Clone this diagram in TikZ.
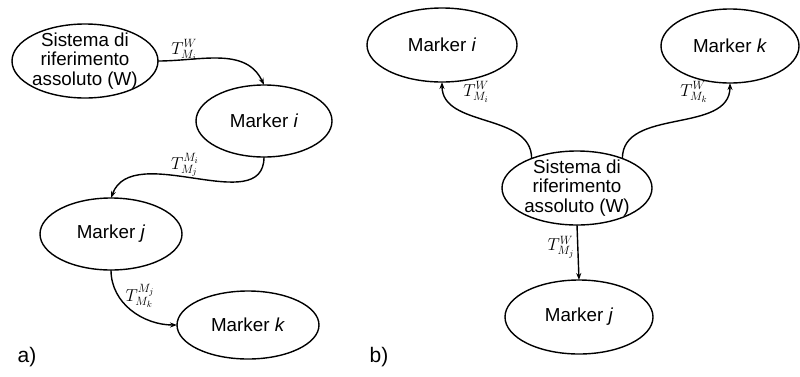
\documentclass[tikz,border=0pt]{standalone}
\usepackage[no-math]{fontspec}
\setmainfont{Liberation Sans}
\usetikzlibrary{arrows.meta,shapes.geometric}
\begin{document}
\begin{tikzpicture}[x=1pt,y=-1pt,
  mk/.style={draw, ellipse, line width=1.4pt, inner sep=0pt, outer sep=0pt},
  txt/.style={align=center, font=\fontsize{18.8}{19.8}\selectfont},
  tlab/.style={font=\fontsize{18}{20}\selectfont, inner sep=0pt},
  arr/.style={line width=1.4pt, -{Stealth[length=7pt,width=5pt]}}]
\useasboundingbox (0,0) rectangle (800,376);

% panel a): chain of transformations
\node[mk, minimum width=146, minimum height=74] (W) at (85,61) {};
\node[txt] (Wt) at (W) {Sistema di\\riferimento\\assoluto (W)};
\node[mk, minimum width=136, minimum height=72] (Mi) at (264,121) {};
\node[txt] (Mit) at (Mi) {Marker \textit{i}};
\node[mk, minimum width=142, minimum height=72] (Mj) at (111,234) {};
\node[txt] (Mjt) at (Mj) {Marker \textit{j}};
\node[mk, minimum width=142, minimum height=68] (Mk) at (248,325) {};
\node[txt] (Mkt) at (Mk) {Marker \textit{k}};

\draw[arr] (W.east) to[out=0,in=115] (Mi.north);
\draw[arr] (Mi.south) to[out=-90,in=70] (Mj.north);
\draw[arr] (Mj.south) to[out=-90,in=180] (Mk.west);

\node[tlab] (la1) at (184,50) {$T^{W}_{M_i}$};
\node[tlab] (la2) at (185,165) {$T^{M_i}_{M_j}$};
\node[tlab] (la3) at (140,296) {$T^{M_j}_{M_k}$};

\node[txt, font=\fontsize{21}{22}\selectfont] (a) at (27,357) {a)};

% panel b): all markers relative to the world frame
\node[mk, minimum width=150, minimum height=74] (S) at (577,188) {};
\node[txt] (St) at (S) {Sistema di\\riferimento\\assoluto (W)};
\node[mk, minimum width=150, minimum height=74] (Ri) at (442,45) {};
\node[txt] (Rit) at (Ri) {Marker \textit{i}};
\node[mk, minimum width=138, minimum height=74] (Rk) at (730,46) {};
\node[txt] (Rkt) at (Rk) {Marker \textit{k}};
\node[mk, minimum width=148, minimum height=74] (Rj) at (579,317) {};
\node[txt] (Rjt) at (Rj) {Marker \textit{j}};

\draw[arr] (S.147) to[out=90,in=-90] (Ri.south);
\draw[arr] (S.33) to[out=90,in=-90] (Rk.south);
\draw[arr] (S.south) -- (Rj.north);

\node[tlab] (lb1) at (476,92) {$T^{W}_{M_i}$};
\node[tlab] (lb2) at (694,92) {$T^{W}_{M_k}$};
\node[tlab] (lb3) at (561,247) {$T^{W}_{M_j}$};

\node[txt, font=\fontsize{21}{22}\selectfont] (b) at (379,357) {b)};
\end{tikzpicture}
\end{document}
